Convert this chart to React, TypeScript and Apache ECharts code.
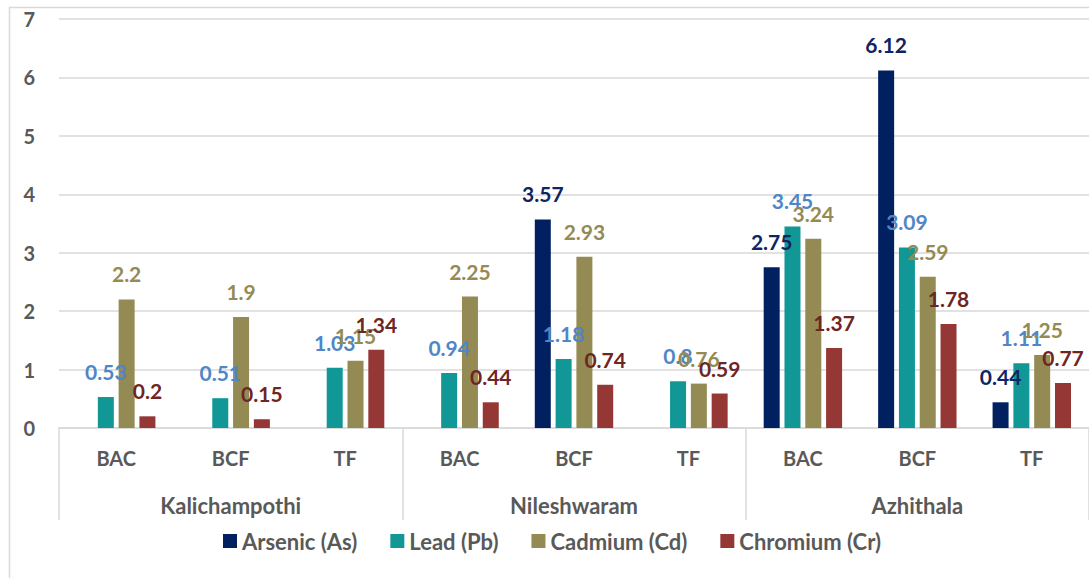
import React, { useEffect, useRef } from "react";
import * as echarts from "echarts";

const indices = ["BAC", "BCF", "TF", "BAC", "BCF", "TF", "BAC", "BCF", "TF"];
const locations = ["Kalichampothi", "Nileshwaram", "Azhithala"];
const arsenic = [null, null, null, null, 3.57, null, 2.75, 6.12, 0.44];
const lead = [0.53, 0.51, 1.03, 0.94, 1.18, 0.8, 3.45, 3.09, 1.11];
const cadmium = [2.2, 1.9, 1.15, 2.25, 2.93, 0.76, 3.24, 2.59, 1.25];
const chromium = [0.2, 0.15, 1.34, 0.44, 0.74, 0.59, 1.37, 1.78, 0.77];
const yTicks = [0, 1, 2, 3, 4, 5, 6, 7];

const FONT = "Lato";
const GREY = "#595959";
const LINE = "#d9d9d9";

export default function App() {
  const ref = useRef<HTMLDivElement>(null);
  useEffect(() => {
    if (!ref.current) return;
    const chart = echarts.init(ref.current, null, { renderer: "svg" });
    const mk = (name: string, data: (number | null)[], color: string, labelColor: string) => ({
      name,
      type: "bar",
      data,
      xAxisIndex: 0,
      barWidth: 16,
      barGap: "30%",
      itemStyle: { color },
      label: {
        show: true,
        position: "top",
        distance: 15,
        color: labelColor,
        fontFamily: FONT,
        fontWeight: "bold",
        fontSize: 21,
      },
    });
    chart.setOption({
      animation: false,
      textStyle: { fontFamily: FONT },
      graphic: [
        {
          type: "rect",
          left: 7,
          top: 5,
          shape: { x: 0, y: 0, width: 1200, height: 700 },
          style: { fill: "none", stroke: LINE, lineWidth: 1.5 },
          z: -10,
        },
      ],
      grid: { left: 59, right: -1.5, top: 19, bottom: 150 },
      legend: {
        left: 218,
        top: 525,
        itemWidth: 14,
        itemHeight: 14,
        itemGap: 33,
        icon: "rect",
        textStyle: { color: GREY, fontFamily: FONT, fontSize: 22, fontWeight: "bold" },
        data: ["Arsenic (As)", "Lead (Pb)", "Cadmium (Cd)", "Chromium (Cr)"],
      },
      xAxis: [
        {
          type: "category",
          data: indices,
          position: "bottom",
          axisLine: { show: true, lineStyle: { color: LINE, width: 1.5 } },
          axisTick: { show: false },
          axisLabel: { color: GREY, fontFamily: FONT, fontWeight: "bold", fontSize: 20, margin: 20, interval: 0 },
        },
        {
          type: "category",
          data: locations,
          position: "bottom",
          axisLine: { show: false },
          axisTick: { show: true, length: 92, lineStyle: { color: LINE, width: 1.5 } },
          axisLabel: { color: GREY, fontFamily: FONT, fontWeight: "bold", fontSize: 22, margin: 66, interval: 0 },
        },
      ],
      yAxis: {
        type: "value",
        min: yTicks[0],
        max: yTicks[yTicks.length - 1],
        interval: 1,
        axisLine: { show: false },
        axisTick: { show: false },
        axisLabel: { color: GREY, fontFamily: FONT, fontWeight: "bold", fontSize: 20, margin: 24 },
        splitLine: { lineStyle: { color: LINE, width: 1.5 } },
      },
      series: [
        mk("Arsenic (As)", arsenic, "#002060", "#0f2462"),
        mk("Lead (Pb)", lead, "#119796", "#4f86c6"),
        mk("Cadmium (Cd)", cadmium, "#948a54", "#948a54"),
        mk("Chromium (Cr)", chromium, "#953735", "#6e2524"),
      ],
    });
    return () => chart.dispose();
  }, []);
  return (
    <div
      ref={ref}
      style={{ position: "fixed", left: 0, top: 0, width: 1089, height: 578, background: "#fff" }}
    />
  );
}
